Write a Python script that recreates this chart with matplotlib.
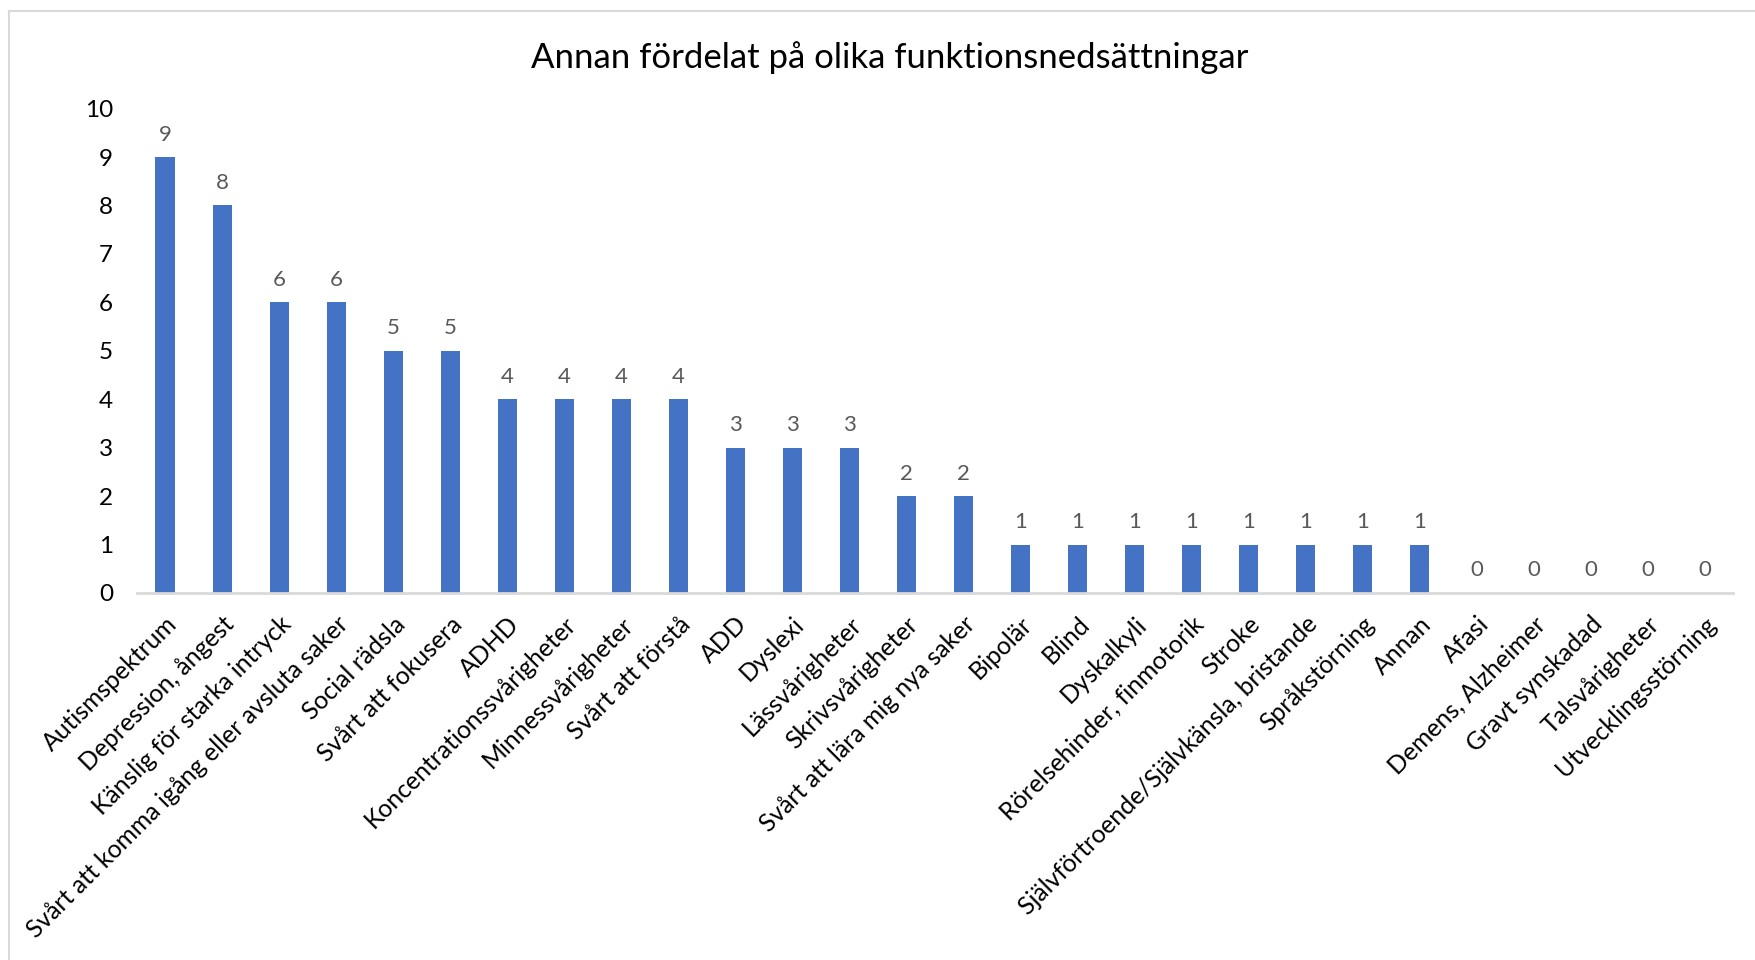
import matplotlib.pyplot as plt
from matplotlib.lines import Line2D

plt.rcParams['font.family'] = ['Lato', 'DejaVu Sans']

categories = ["Autismspektrum", "Depression, ångest", "Känslig för starka intryck",
              "Svårt att komma igång eller avsluta saker", "Social rädsla", "Svårt att fokusera",
              "ADHD", "Koncentrationssvårigheter", "Minnessvårigheter", "Svårt att förstå",
              "ADD", "Dyslexi", "Lässvårigheter", "Skrivsvårigheter", "Svårt att lära mig nya saker",
              "Bipolär", "Blind", "Dyskalkyli", "Rörelsehinder, finmotorik", "Stroke",
              "Självförtroende/Självkänsla, bristande", "Språkstörning", "Annan", "Afasi",
              "Demens, Alzheimer", "Gravt synskadad", "Talsvårigheter", "Utvecklingsstörning"]
values = [9, 8, 6, 6, 5, 5, 4, 4, 4, 4, 3, 3, 3, 2, 2, 1, 1, 1, 1, 1, 1, 1, 1, 0, 0, 0, 0, 0]
yticks = list(range(0, 11))
title = "Annan fördelat på olika funktionsnedsättningar"

fig = plt.figure(figsize=(17.55, 9.6), dpi=100)
ax = fig.add_axes([0.0778, 0.3823, 0.9097, 0.5046])

x = range(len(categories))
bars = ax.bar(x, values, width=0.335, color="#4472C4")
for b, v in zip(bars, values):
    ax.annotate(str(v), (b.get_x() + b.get_width() / 2, v), xytext=(0, 9),
                textcoords="offset points", ha="center", va="bottom",
                fontsize=16, color="#595959")

ax.set_xlim(-0.5, len(categories) - 0.5)
ax.set_ylim(0, 10)
ax.set_yticks(yticks)
ax.set_yticklabels([str(t) for t in yticks], fontsize=17.5)
ax.set_xticks(list(x))
ax.set_xticklabels(categories, rotation=45, ha="right", rotation_mode="anchor", fontsize=17.8)
ax.tick_params(axis="both", length=0)
ax.tick_params(axis="y", pad=17)
ax.tick_params(axis="x", pad=14)
for s in ["top", "right", "left"]:
    ax.spines[s].set_visible(False)
ax.spines["bottom"].set_color("#D9D9D9")
ax.spines["bottom"].set_linewidth(2)

fig.text(0.507, 0.94, title, ha="center", va="center", fontsize=25, color="#000000")

# chart border (top and left edges visible)
fig.add_artist(Line2D([9 / 1755, 1], [1 - 11 / 960, 1 - 11 / 960], transform=fig.transFigure,
                      color="#D9D9D9", lw=1.5))
fig.add_artist(Line2D([9 / 1755, 9 / 1755], [0, 1 - 11 / 960], transform=fig.transFigure,
                      color="#D9D9D9", lw=1.5))

fig.savefig("out.png", dpi=100)
